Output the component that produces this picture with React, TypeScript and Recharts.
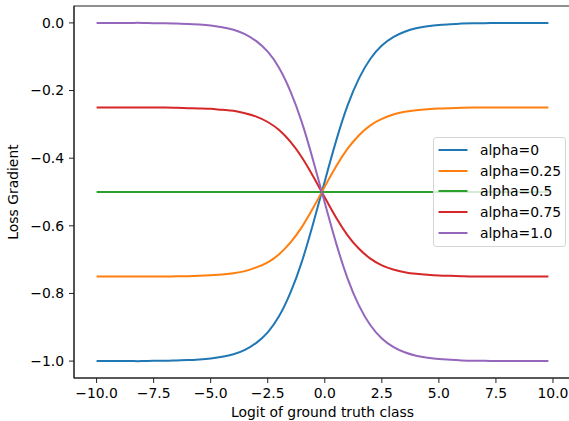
import { Label, Legend, Line, LineChart, ReferenceArea, XAxis, YAxis } from "recharts";

const FONT = "'DejaVu Sans', sans-serif";

// logit of the ground truth class (x axis)
const logits = [
  -10, -9.5, -9, -8.5, -8, -7.5, -7, -6.5, -6, -5.5, -5, -4.5, -4, -3.5, -3, -2.5, -2, -1.5, -1, -0.5,
  0, 0.5, 1, 1.5, 2, 2.5, 3, 3.5, 4, 4.5, 5, 5.5, 6, 6.5, 7, 7.5, 8, 8.5, 9, 9.5, 9.8,
];

const alpha0 = [
  -1.0, -1.0, -1.0, -1.0, -1.0, -0.999, -0.999, -0.998, -0.997, -0.995, -0.992, -0.987, -0.98, -0.967,
  -0.946, -0.915, -0.867, -0.797, -0.705, -0.591, -0.468, -0.348, -0.244, -0.164, -0.106, -0.067, -0.042,
  -0.026, -0.016, -0.01, -0.006, -0.004, -0.002, -0.001, -0.001, 0, 0, 0, 0, 0, 0,
];

const alpha025 = [
  -0.75, -0.75, -0.75, -0.75, -0.75, -0.75, -0.75, -0.749, -0.749, -0.748, -0.746, -0.744, -0.74, -0.734,
  -0.723, -0.708, -0.684, -0.649, -0.603, -0.546, -0.484, -0.424, -0.372, -0.332, -0.303, -0.284, -0.271,
  -0.263, -0.258, -0.255, -0.253, -0.252, -0.251, -0.25, -0.25, -0.25, -0.25, -0.25, -0.25, -0.25, -0.25,
];

const alpha05 = [
  -0.5, -0.5, -0.5, -0.5, -0.5, -0.5, -0.5, -0.5, -0.5, -0.5, -0.5, -0.5, -0.5, -0.5, -0.5, -0.5, -0.5,
  -0.5, -0.5, -0.5, -0.5, -0.5, -0.5, -0.5, -0.5, -0.5, -0.5, -0.5, -0.5, -0.5, -0.5, -0.5, -0.5, -0.5,
  -0.5, -0.5, -0.5, -0.5, -0.5, -0.5, -0.5,
];

const alpha075 = [
  -0.25, -0.25, -0.25, -0.25, -0.25, -0.25, -0.25, -0.251, -0.252, -0.253, -0.254, -0.257, -0.26, -0.267,
  -0.277, -0.293, -0.317, -0.352, -0.398, -0.455, -0.516, -0.576, -0.628, -0.668, -0.697, -0.717, -0.729,
  -0.737, -0.742, -0.745, -0.747, -0.748, -0.749, -0.75, -0.75, -0.75, -0.75, -0.75, -0.75, -0.75, -0.75,
];

const alpha1 = [
  0, 0, 0, 0, 0, -0.001, -0.001, -0.002, -0.003, -0.005, -0.008, -0.013, -0.02, -0.033, -0.054, -0.085,
  -0.133, -0.203, -0.295, -0.409, -0.532, -0.652, -0.756, -0.836, -0.894, -0.933, -0.958, -0.974, -0.984,
  -0.99, -0.994, -0.996, -0.998, -0.999, -0.999, -1.0, -1.0, -1.0, -1.0, -1.0, -1.0,
];

const seriesNames = ["alpha=0", "alpha=0.25", "alpha=0.5", "alpha=0.75", "alpha=1.0"];
const seriesColors = ["#1f77b4", "#ff7f0e", "#2ca02c", "#d62728", "#9467bd"];
const seriesValues = [alpha0, alpha025, alpha05, alpha075, alpha1];

const xTicks = [-10, -7.5, -5, -2.5, 0, 2.5, 5, 7.5, 10];
const yTicks = [-1, -0.8, -0.6, -0.4, -0.2, 0];

const X_DOMAIN: [number, number] = [-10.99, 10.79];
const Y_DOMAIN: [number, number] = [-1.05, 0.05];

const rows = logits.map((x, i) => {
  const row: Record<string, number> = { x };
  seriesValues.forEach((vals, s) => {
    row["s" + s] = vals[i];
  });
  return row;
});

const fmt = (v: number) => v.toFixed(1).replace("-", "\u2212");

const tickStyle = { fontFamily: FONT, fontSize: 13.9, fill: "#000" };

function LegendBox(props: any) {
  const payload = props.payload || [];
  return (
    <div
      style={{
        width: 133,
        height: 110,
        boxSizing: "border-box",
        border: "1px solid #d6d6d6",
        borderRadius: 3,
        background: "rgba(255,255,255,0.8)",
        position: "relative",
        fontFamily: FONT,
        fontSize: 13.9,
        color: "#000",
      }}
    >
      {payload.map((p: any, i: number) => (
        <div
          key={p.value}
          style={{
            position: "absolute",
            left: 0,
            top: 2 + i * 20.7,
            height: 20,
            display: "flex",
            alignItems: "center",
            whiteSpace: "nowrap",
          }}
        >
          <svg width={46} height={20} style={{ display: "block" }}>
            <line x1={4.5} x2={33.5} y1={10} y2={10} stroke={p.color} strokeWidth={2} />
          </svg>
          <span>{p.value}</span>
        </div>
      ))}
    </div>
  );
}

export default function App() {
  return (
    <div
      style={{
        position: "absolute",
        left: 0,
        top: 0,
        width: 569,
        height: 421,
        overflow: "hidden",
        background: "#fff",
      }}
    >
      <LineChart width={572} height={421} data={rows} margin={{ top: 6, right: 1, left: 0, bottom: 0 }}>
        <ReferenceArea
          x1={X_DOMAIN[0]}
          x2={X_DOMAIN[1]}
          y1={Y_DOMAIN[0]}
          y2={Y_DOMAIN[1]}
          fill="none"
          stroke="#222"
          strokeWidth={1.1}
          ifOverflow="visible"
        />
        <XAxis
          dataKey="x"
          type="number"
          domain={X_DOMAIN}
          ticks={xTicks}
          tickFormatter={fmt}
          height={43}
          tickSize={5}
          tickMargin={5}
          tick={tickStyle}
          stroke="#222"
          allowDataOverflow
        >
          <Label
            content={() => (
              <text x={322.5} y={416.5} textAnchor="middle" style={{ fontFamily: FONT, fontSize: 13.9 }} fill="#000">
                Logit of ground truth class
              </text>
            )}
          />
        </XAxis>
        <YAxis
          type="number"
          domain={Y_DOMAIN}
          ticks={yTicks}
          tickFormatter={fmt}
          width={74}
          tickSize={5}
          tickMargin={5}
          tick={tickStyle}
          stroke="#222"
          allowDataOverflow
        >
          <Label
            content={() => (
              <text
                x={18}
                y={192}
                transform="rotate(-90 18 192)"
                textAnchor="middle"
                style={{ fontFamily: FONT, fontSize: 13.9 }}
                fill="#000"
              >
                Loss Gradient
              </text>
            )}
          />
        </YAxis>
        {seriesValues.map((_, s) => (
          <Line
            key={s}
            dataKey={"s" + s}
            name={seriesNames[s]}
            stroke={seriesColors[s]}
            strokeWidth={2}
            type="natural"
            dot={false}
            activeDot={false}
            isAnimationActive={false}
          />
        ))}
        <Legend
          layout="horizontal"
          verticalAlign="middle"
          align="center"
          content={<LegendBox />}
          wrapperStyle={{ left: 433, top: 137, width: 133, height: 110, margin: 0 }}
        />
      </LineChart>
    </div>
  );
}
